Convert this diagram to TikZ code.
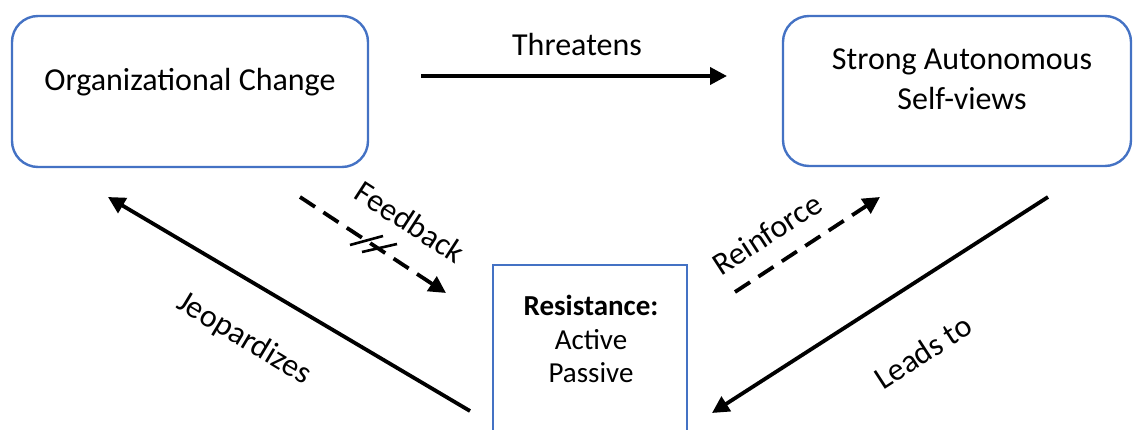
\documentclass[tikz,border=0pt]{standalone}
\usepackage{fontspec}
\setmainfont{Carlito}
\usetikzlibrary{arrows.meta}
\definecolor{boxblue}{HTML}{4472C4}
\begin{document}
\begin{tikzpicture}[x=1pt,y=-1pt,
  box/.style={draw=boxblue, line width=2.4pt, fill=white, inner sep=0pt},
  lbl/.style={font=\fontsize{32}{40}\selectfont, inner sep=0pt},
  rlbl/.style={font=\fontsize{29}{34}\selectfont, inner sep=0pt},
  arr/.style={line width=3.8pt, -{Triangle[length=17pt,width=17pt]}},
  dsh/.style={arr, dash pattern=on 18pt off 10pt},
  brk/.style={line width=2.6pt}]
\useasboundingbox (0,0) rectangle (1133,430);
\clip (0,0) rectangle (1133,430);
% boxes
\node[box, rounded corners=26pt, minimum width=356pt, minimum height=151pt] (oc) at (190,91.5) {};
\node[box, rounded corners=26pt, minimum width=348pt, minimum height=150pt] (sa) at (957,91) {};
\node[box, minimum width=194pt, minimum height=200pt] (res) at (590,365) {};
% box texts
\node[lbl, anchor=base] (octxt) at (190,91) {Organizational Change};
\node[lbl, anchor=base] (satxt1) at (962,70) {Strong Autonomous};
\node[lbl, anchor=base] (satxt2) at (962,110) {Self-views};
\node[rlbl, anchor=base] (restxt1) at (591,316) {\textbf{Resistance:}};
\node[rlbl, anchor=base] (restxt2) at (591,350) {Active};
\node[rlbl, anchor=base] (restxt3) at (591,383) {Passive};
% Threatens
\coordinate (t1) at (421,76);
\coordinate (t2) at (727,76);
\draw[arr] (t1) -- (t2);
\node[lbl, anchor=base] (thr) at (577,56) {Threatens};
% Feedback
\coordinate (f1) at (300,197);
\coordinate (f2) at (446,293);
\draw[dsh] (f1) -- (f2);
\draw[brk] (350,245) -- (383,236);
\draw[brk] (362,252) -- (397,244);
\node[lbl, rotate=-33] (fb) at (410,222) {Feedback};
% Jeopardizes
\coordinate (j1) at (470,411);
\coordinate (j2) at (108,197);
\draw[arr] (j1) -- (j2);
\node[lbl, rotate=-31] (jp) at (244,339) {Jeopardizes};
% Reinforce
\coordinate (r1) at (735,292);
\coordinate (r2) at (880,197);
\draw[dsh] (r1) -- (r2);
\node[lbl, rotate=33] (rf) at (767,234) {Reinforce};
% Leads to
\coordinate (l1) at (1048,197);
\coordinate (l2) at (712,413);
\draw[arr] (l1) -- (l2);
\node[lbl, rotate=33] (lt) at (923,352) {Leads to};
\end{tikzpicture}
\end{document}
